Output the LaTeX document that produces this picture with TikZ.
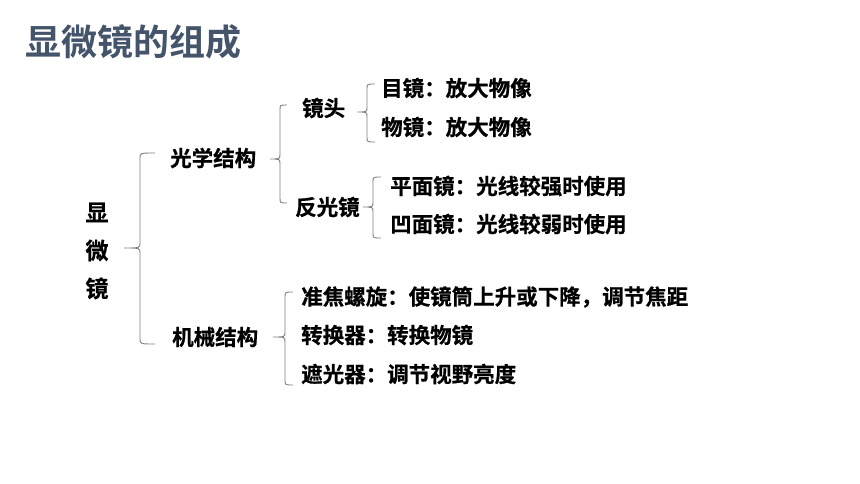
\documentclass[tikz,border=0pt]{standalone}
\usepackage{fontspec}
\newfontfamily\cjk{Noto Sans CJK SC Bold}
\newfontfamily\cjkb[FakeBold=0.6]{Noto Sans CJK SC Bold}
\definecolor{titlecol}{HTML}{44546A}
\definecolor{bracecol}{HTML}{808080}
\begin{document}
\begin{tikzpicture}[x=1pt,y=-1pt,
  txt/.style={font=\cjkb\fontsize{21.5}{24}\selectfont, inner sep=0pt, anchor=west, text=black},
  bracestyle/.style={draw=bracecol, line width=0.9pt}]
\useasboundingbox[fill=white] (0,0) rectangle (860,484);
% title
\node[font=\cjk\fontsize{36}{40}\selectfont, text=titlecol, inner sep=0pt, anchor=west] (title) at (25,42) {显微镜的组成};
% root
\node[font=\cjkb\fontsize{23}{38}\selectfont, inner sep=0pt, align=center] (root) at (97,251) {显\\微\\镜};
% level 1
\node[txt] (opt) at (170,158) {光学结构};
\node[txt] (mech) at (172,337) {机械结构};
% level 2
\node[txt] (lens) at (302,108) {镜头};
\node[txt] (mirror) at (295,207) {反光镜};
% leaves
\node[txt] (ocular) at (381,88) {目镜：放大物像};
\node[txt] (objective) at (381,127) {物镜：放大物像};
\node[txt] (flat) at (390,186) {平面镜：光线较强时使用};
\node[txt] (concave) at (390,224) {凹面镜：光线较弱时使用};
\node[txt] (focus) at (301,297) {准焦螺旋：使镜筒上升或下降，调节焦距};
\node[txt] (nose) at (301,335) {转换器：转换物镜};
\node[txt] (diaph) at (301,374) {遮光器：调节视野亮度};
% braces: #1 x of spine, #2 top, #3 mid, #4 bottom, #5 tick x, #6 end x
\newcommand{\mybrace}[6]{%
  \draw[bracestyle] (#6,#2) .. controls (#1,#2) .. (#1,#2+5) -- (#1,#3-5)
    .. controls (#1,#3) .. (#5,#3) .. controls (#1,#3) .. (#1,#3+5)
    -- (#1,#4-5) .. controls (#1,#4) .. (#6,#4);}
\mybrace{140}{153}{248}{344}{124}{155}
\mybrace{280}{105}{159}{203}{270}{287}
\mybrace{367}{84}{112}{142}{357}{375}
\mybrace{373}{177}{207}{238}{363}{381}
\mybrace{285}{292}{337}{385}{273}{293}
\end{tikzpicture}
\end{document}
